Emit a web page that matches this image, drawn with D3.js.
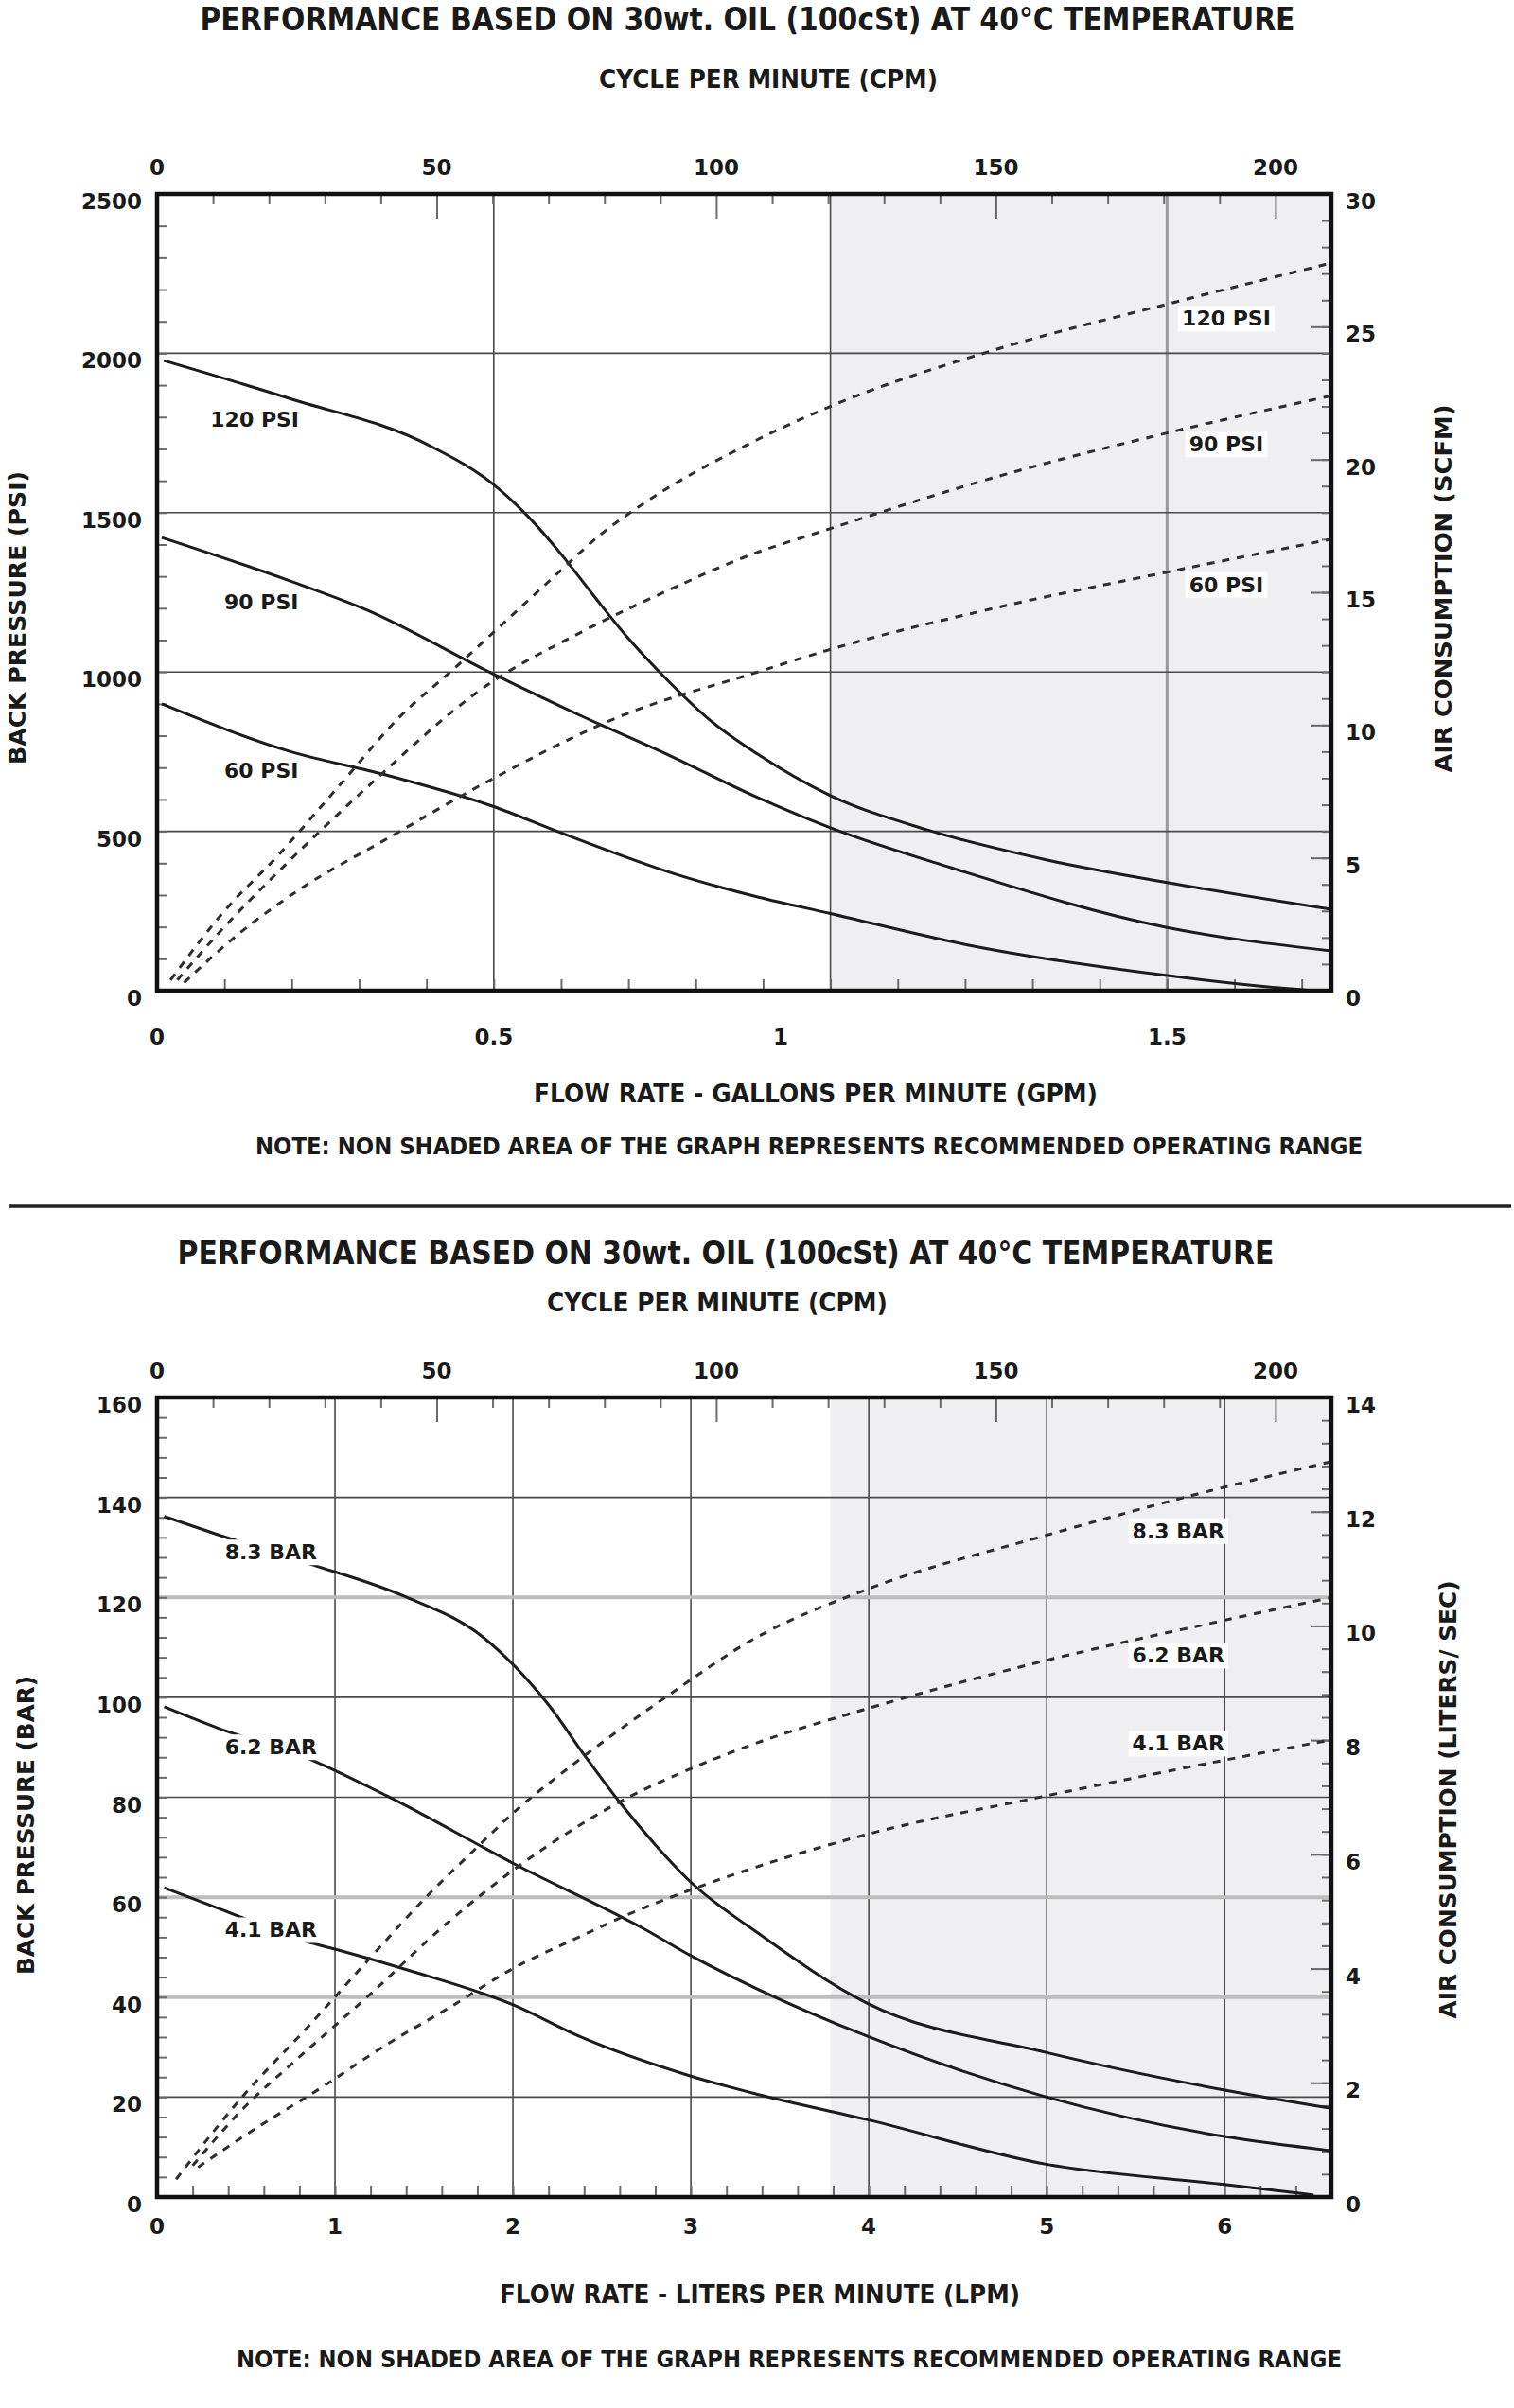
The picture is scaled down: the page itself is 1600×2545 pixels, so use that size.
<!DOCTYPE html>
<html><head><meta charset="utf-8">
<script src="https://cdn.jsdelivr.net/npm/d3@7"></script>
<style>html,body{margin:0;padding:0;background:#fff}svg{display:block}</style>
</head><body>
<svg id="c" width="1600" height="2545"></svg>
<script>
// ---------------- DATA ----------------
const titleText = "PERFORMANCE BASED ON 30wt. OIL (100cSt) AT 40°C TEMPERATURE";
const cpmTitle = "CYCLE PER MINUTE (CPM)";
const noteTop = "NOTE:  NON SHADED AREA OF THE GRAPH REPRESENTS RECOMMENDED OPERATING RANGE";
const noteBottom = "NOTE: NON SHADED AREA OF THE GRAPH REPRESENTS RECOMMENDED OPERATING RANGE";
const cpmDomain = [0, 210];
const cpmTickLabels = [0, 50, 100, 150, 200];

// Top chart (US units)
const gpmDomain = [0, 1.744];
const psiDomain = [0, 2500];
const scfmDomain = [0, 30];
const gpmLabelPos = [0, 0.5, 0.926, 1.5];
const gpmLabelText = ["0", "0.5", "1", "1.5"];
const psiTickLabels = [0, 500, 1000, 1500, 2000, 2500];
const scfmTickLabels = [0, 5, 10, 15, 20, 25, 30];
const gpmGrid = [0.5, 1.0, 1.5];
const psiGrid = [500, 1000, 1500, 2000];
const gpmShadeFrom = 1.0;
const psiSeriesNames = ["120 PSI", "90 PSI", "60 PSI"];
const bp120psi = [[0.01,1977],[0.197,1858],[0.405,1710],[0.498,1591],[0.55,1490],[0.6,1370],[0.65,1235],[0.7,1105],[0.753,985],[0.821,849],[0.892,742],[1.0,612],[1.143,505],[1.322,410],[1.498,340],[1.744,255]];
const bp90psi = [[0.007,1422],[0.197,1286],[0.312,1194],[0.498,995],[0.628,864],[0.757,742],[0.892,606],[1.0,511],[1.179,386],[1.498,199],[1.744,125]];
const bp60psi = [[0.007,900],[0.197,751],[0.34,677],[0.498,579],[0.599,496],[0.771,365],[0.892,294],[1.0,242],[1.2,145],[1.498,48],[1.65,12],[1.72,0]];
const air120psi = [[0.02,0.4],[0.1,3.0],[0.18,5.1],[0.27,7.7],[0.36,10.3],[0.44,12.1],[0.5,13.5],[0.59,15.6],[0.66,17.2],[0.72,18.3],[0.88,20.6],[1.0,22.0],[1.24,24.1],[1.5,25.85],[1.744,27.4]];
const air90psi = [[0.03,0.4],[0.1,2.4],[0.193,4.8],[0.312,7.66],[0.49,11.5],[0.63,13.5],[0.77,15.2],[0.87,16.3],[1.0,17.4],[1.24,19.3],[1.5,21.0],[1.744,22.4]];
const air60psi = [[0.04,0.3],[0.118,2.07],[0.211,3.8],[0.34,5.7],[0.5,8.0],[0.685,10.3],[0.892,12.0],[1.0,12.85],[1.243,14.4],[1.498,15.75],[1.744,17.0]];
const psiLeftLabelAt = [[0.145,1793],[0.155,1220],[0.155,690]];
const psiRightLabelAt = [[1.588,25.3],[1.588,20.56],[1.588,15.28]];

// Bottom chart (metric units)
const lpmDomain = [0, 6.6];
const barDomain = [0, 160];
const lpsDomain = [0, 14];
const lpmTickLabels = [0, 1, 2, 3, 4, 5, 6];
const barTickLabels = [0, 20, 40, 60, 80, 100, 120, 140, 160];
const lpsTickLabels = [0, 2, 4, 6, 8, 10, 12, 14];
const lpmGrid = [1, 2, 3, 4, 5, 6];
const barGrid = [20, 40, 60, 80, 100, 120, 140];
const barGridLight = [40, 60, 120];
const lpmShadeFrom = 3.785;
const barSeriesNames = ["8.3 BAR", "6.2 BAR", "4.1 BAR"];
const bp83bar = [[0.04,136.2],[0.338,132.6],[0.84,126.9],[1.397,120.1],[1.83,112.1],[2.005,106.4],[2.2,98.5],[2.4,88.5],[2.6,79],[2.8,70.5],[3.0,63],[3.37,53],[3.99,38.8],[4.99,29],[6.0,21.4],[6.59,17.8]];
const bp62bar = [[0.04,98.1],[0.338,93.9],[0.84,87.9],[1.29,80.3],[2.005,66.7],[2.75,53.4],[3.0,48.3],[3.37,41.7],[3.99,32.2],[4.99,20.1],[6.0,12.1],[6.59,9.3]];
const bp41bar = [[0.04,61.9],[0.365,57.5],[0.84,51.1],[1.0,49.6],[1.42,45.3],[2.005,38.4],[2.37,32.2],[3.0,24.2],[3.37,20.6],[3.99,15.5],[4.99,6.6],[6.0,2.5],[6.5,0.4]];
const air83bar = [[0.107,0.31],[0.475,1.74],[0.854,3.0],[1.207,4.22],[1.505,5.23],[1.777,6.06],[2.0,6.72],[2.37,7.65],[2.835,8.7],[3.37,9.8],[3.99,10.64],[4.99,11.58],[6.0,12.43],[6.59,12.87]];
const air62bar = [[0.2,0.55],[0.5,1.6],[0.745,2.3],[1.18,3.5],[1.65,4.85],[2.0,5.72],[2.37,6.5],[2.65,7.0],[3.0,7.5],[3.37,7.95],[3.99,8.55],[4.99,9.39],[6.0,10.1],[6.59,10.49]];
const air41bar = [[0.23,0.52],[0.475,1.04],[0.935,1.94],[1.29,2.67],[1.65,3.33],[2.0,4.0],[2.37,4.55],[2.65,4.95],[3.0,5.38],[3.37,5.78],[3.99,6.35],[4.99,7.02],[6.0,7.65],[6.59,8.0]];
const barLeftLabelAt = [[0.64,129.0],[0.64,90.0],[0.64,53.4]];
const barRightLabelAt = [[5.74,11.66],[5.74,9.48],[5.74,7.94]];

// ---------------- DRAW ----------------
const svg = d3.select("#c");
const FONT = "'DejaVu Sans', 'Open Sans', sans-serif";
const X0 = 166, X1 = 1407;

function txt(g, s, x, y, size, opts = {}) {
  const t = g.append("text").attr("x", x).attr("y", y).text(s)
    .attr("font-family", FONT).attr("font-weight", "bold")
    .attr("font-size", size).attr("fill", opts.fill || "#1a1a1a")
    .attr("text-anchor", opts.anchor || "middle")
    .attr("dominant-baseline", "central");
  if (opts.len) t.attr("textLength", opts.len).attr("lengthAdjust", "spacingAndGlyphs");
  if (opts.rot) t.attr("transform", `rotate(-90,${x},${y})`);
  return t;
}

function drawChart(cfg) {
  const g = svg.append("g");
  const x = d3.scaleLinear().domain(cfg.xDomain).range([X0, X1]);
  const cpm = d3.scaleLinear().domain(cpmDomain).range([X0, X1]);
  const yL = d3.scaleLinear().domain(cfg.yLDomain).range([cfg.yBottom, cfg.yTop]);
  const yR = d3.scaleLinear().domain(cfg.yRDomain).range([cfg.yBottom, cfg.yTop]);
  const T = cfg.yTop, B = cfg.yBottom;

  // titles
  txt(g, titleText, cfg.titleX, cfg.titleY, 34, {len: cfg.titleLen});
  txt(g, cpmTitle, cfg.subX, cfg.subY, 26, {len: cfg.subLen});

  // shading
  g.append("rect").attr("x", x(cfg.shadeFrom)).attr("y", T)
    .attr("width", X1 - x(cfg.shadeFrom)).attr("height", B - T).attr("fill", "#efeff1");

  // grid
  g.selectAll(null).data(cfg.xGrid).join("line")
    .attr("x1", d => x(d)).attr("x2", d => x(d)).attr("y1", T).attr("y2", B)
    .attr("stroke", d => cfg.xGridLight.includes(d) ? "#9a9a9a" : "#4a4a4a")
    .attr("stroke-width", d => cfg.xGridLight.includes(d) ? 3 : 1.6);
  g.selectAll(null).data(cfg.yGrid).join("line")
    .attr("x1", X0).attr("x2", X1).attr("y1", d => yL(d)).attr("y2", d => yL(d))
    .attr("stroke", d => cfg.yGridLight.includes(d) ? "#bdbdbd" : "#4a4a4a")
    .attr("stroke-width", d => cfg.yGridLight.includes(d) ? 4 : 1.6);

  // ticks via d3 axes
  const tickStyle = sel => { sel.select(".domain").remove(); sel.selectAll("line").attr("stroke", "#6a6a6a").attr("stroke-width", 2); sel.selectAll("text").remove(); };
  const cpmMinor = d3.range(10, 210, 10).filter(v => v % 50 !== 0);
  g.append("g").attr("transform", `translate(0,${T})`)
    .call(d3.axisBottom(cpm).tickValues(cpmMinor).tickSize(11).tickFormat("")).call(tickStyle);
  g.append("g").attr("transform", `translate(0,${T})`)
    .call(d3.axisBottom(cpm).tickValues([50, 100, 150, 200]).tickSize(26).tickFormat("")).call(tickStyle);
  g.append("g").attr("transform", `translate(${X0},0)`)
    .call(d3.axisRight(yL).tickValues(cfg.yLMinor).tickSize(10).tickFormat("")).call(tickStyle);
  g.append("g").attr("transform", `translate(${X1},0)`)
    .call(d3.axisLeft(yR).tickValues(cfg.yRMinor).tickSize(10).tickFormat("")).call(tickStyle);
  g.append("g").attr("transform", `translate(${X1},0)`)
    .call(d3.axisLeft(yR).tickValues(cfg.yRLabels).tickSize(22).tickFormat("")).call(tickStyle);
  g.append("g").attr("transform", `translate(0,${B})`)
    .call(d3.axisTop(x).tickValues(cfg.xMinor).tickSize(12).tickFormat("")).call(tickStyle);

  // curves
  const clipId = "clip" + cfg.id;
  g.append("clipPath").attr("id", clipId).append("rect")
    .attr("x", X0).attr("y", T).attr("width", X1 - X0).attr("height", B - T);
  const cg = g.append("g").attr("clip-path", `url(#${clipId})`);
  const lineL = d3.line().x(d => x(d[0])).y(d => yL(d[1])).curve(d3.curveMonotoneX);
  const lineR = d3.line().x(d => x(d[0])).y(d => yR(d[1])).curve(d3.curveMonotoneX);
  cfg.solid.forEach(s => cg.append("path").attr("d", lineL(s)).attr("fill", "none")
    .attr("stroke", "#1c1c1c").attr("stroke-width", 3));
  cfg.dashed.forEach(s => cg.append("path").attr("d", lineR(s)).attr("fill", "none")
    .attr("stroke", "#2e2e2e").attr("stroke-width", 3).attr("stroke-dasharray", "8,8"));

  // series labels with white boxes
  const lab = (name, px, py) => {
    const t = txt(g, name, px, py, 22);
    const bb = t.node().getBBox();
    g.insert("rect", () => t.node()).attr("x", bb.x - 4).attr("y", bb.y - 1)
      .attr("width", bb.width + 8).attr("height", bb.height + 2).attr("fill", "#fff");
  };
  cfg.names.forEach((n, i) => lab(n, x(cfg.leftAt[i][0]), yL(cfg.leftAt[i][1])));
  cfg.names.forEach((n, i) => lab(n, x(cfg.rightAt[i][0]), yR(cfg.rightAt[i][1])));

  // frame
  g.append("rect").attr("x", X0).attr("y", T).attr("width", X1 - X0).attr("height", B - T)
    .attr("fill", "none").attr("stroke", "#111").attr("stroke-width", 4.5);

  // tick labels
  cpmTickLabels.forEach(v => txt(g, String(v), cpm(v), cfg.cpmLabelY, 23));
  cfg.xLabelPos.forEach((v, i) => txt(g, cfg.xLabelText[i], x(v), cfg.xLabelY, 23));
  cfg.yLLabels.forEach(v => txt(g, String(v), 150, yL(v) + 8, 23, {anchor: "end"}));
  cfg.yRLabels.forEach(v => txt(g, String(v), 1422, yR(v) + 8, 23, {anchor: "start"}));

  // axis titles
  txt(g, cfg.yLTitle, cfg.yLTitleX, cfg.yLTitleY, 25, {rot: true, len: cfg.yLTitleLen});
  txt(g, cfg.yRTitle, cfg.yRTitleX, cfg.yRTitleY, 25, {rot: true, len: cfg.yRTitleLen});
  txt(g, cfg.xTitle, cfg.xTitleX, cfg.xTitleY, 26, {len: cfg.xTitleLen});
  txt(g, cfg.note, cfg.noteX, cfg.noteY, 24, {len: cfg.noteLen});
}

drawChart({
  id: "top", xDomain: gpmDomain, yLDomain: psiDomain, yRDomain: scfmDomain,
  yTop: 205, yBottom: 1047,
  titleX: 790, titleY: 20, titleLen: 1157, subX: 812, subY: 84, subLen: 358,
  shadeFrom: gpmShadeFrom,
  xGrid: gpmGrid, xGridLight: [1.5], yGrid: psiGrid, yGridLight: [],
  yLMinor: d3.range(100, 2500, 100), yRMinor: d3.range(1, 30, 1),
  xMinor: d3.range(1, 18).map(k => k / 10),
  solid: [bp120psi, bp90psi, bp60psi], dashed: [air120psi, air90psi, air60psi],
  names: psiSeriesNames, leftAt: psiLeftLabelAt, rightAt: psiRightLabelAt,
  cpmLabelY: 177, xLabelPos: gpmLabelPos, xLabelText: gpmLabelText, xLabelY: 1096,
  yLLabels: psiTickLabels, yRLabels: scfmTickLabels,
  yLTitle: "BACK PRESSURE  (PSI)", yLTitleX: 18, yLTitleY: 653, yLTitleLen: 310,
  yRTitle: "AIR  CONSUMPTION  (SCFM)", yRTitleX: 1525, yRTitleY: 622, yRTitleLen: 389,
  xTitle: "FLOW RATE - GALLONS PER MINUTE (GPM)", xTitleX: 862, xTitleY: 1156, xTitleLen: 596,
  note: noteTop, noteX: 855, noteY: 1212, noteLen: 1170
});

// separator
svg.append("line").attr("x1", 9).attr("x2", 1597).attr("y1", 1275).attr("y2", 1275)
  .attr("stroke", "#222").attr("stroke-width", 3.5);

drawChart({
  id: "bot", xDomain: lpmDomain, yLDomain: barDomain, yRDomain: lpsDomain,
  yTop: 1477, yBottom: 2322,
  titleX: 767, titleY: 1324, titleLen: 1159, subX: 758, subY: 1377, subLen: 360,
  shadeFrom: lpmShadeFrom,
  xGrid: lpmGrid, xGridLight: [], yGrid: barGrid, yGridLight: barGridLight,
  yLMinor: d3.range(4, 160, 4), yRMinor: d3.range(1, 35).map(k => k * 0.4),
  xMinor: d3.range(1, 33).map(k => k * 0.2),
  solid: [bp83bar, bp62bar, bp41bar], dashed: [air83bar, air62bar, air41bar],
  names: barSeriesNames, leftAt: barLeftLabelAt, rightAt: barRightLabelAt,
  cpmLabelY: 1449, xLabelPos: lpmTickLabels, xLabelText: lpmTickLabels.map(String), xLabelY: 2353,
  yLLabels: barTickLabels, yRLabels: lpsTickLabels,
  yLTitle: "BACK PRESSURE (BAR)", yLTitleX: 27, yLTitleY: 1929, yLTitleLen: 316,
  yRTitle: "AIR CONSUMPTION (LITERS/ SEC)", yRTitleX: 1530, yRTitleY: 1902, yRTitleLen: 463,
  xTitle: "FLOW RATE - LITERS PER MINUTE (LPM)", xTitleX: 803, xTitleY: 2425, xTitleLen: 550,
  note: noteBottom, noteX: 834, noteY: 2494, noteLen: 1168
});
</script>
</body></html>
